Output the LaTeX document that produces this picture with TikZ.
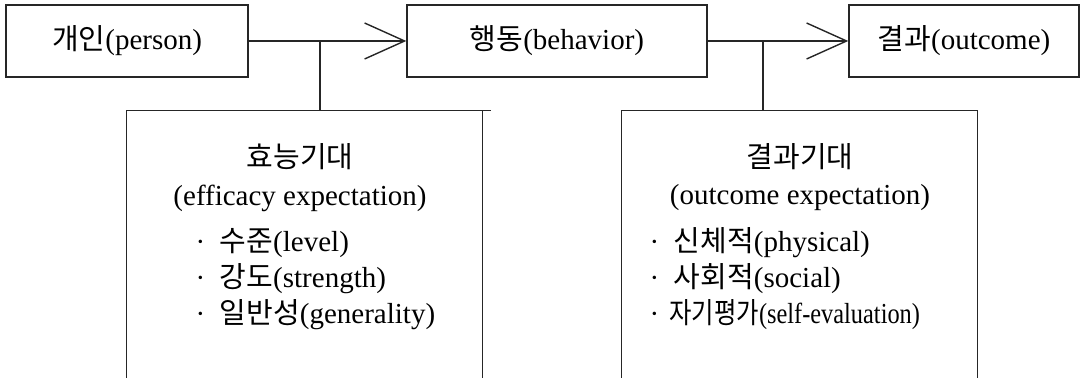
\documentclass[tikz,border=0pt]{standalone}
\usepackage{fontspec}
\usepackage{graphicx}
\setmainfont{Liberation Serif}
\newfontfamily\krfont{Noto Sans CJK KR}
\newcommand{\kr}[1]{{\krfont #1}}
\usetikzlibrary{positioning,arrows.meta}

\tikzset{
  box/.style={rectangle, draw, line width=0.7pt, minimum height=36pt, inner sep=0pt},
  openbox/.style={rectangle, minimum width=177.5pt, minimum height=133.5pt, inner sep=0pt},
  barb/.style={-{Straight Barb[length=20pt, width=18pt, line width=0.7pt]}},
  item/.style={anchor=west, inner sep=0pt}
}

\begin{document}
\begin{tikzpicture}[x=0.5pt, y=-0.5pt, line width=0.7pt, draw=black!85,
    font=\fontsize{14.5}{17}\selectfont]
        \useasboundingbox (0,0) rectangle (1082,378);

        \node[box, minimum width=121pt] (person) at (127,41) {\kr{개인}(person)};
        \node[box, minimum width=150pt] (behavior) at (557,41) {\kr{행동}(behavior)};
        \node[box, minimum width=115pt] (outcome) at (964,41) {\kr{결과}(outcome)};

        \node[openbox] (effbox) at (304.5,244.5) {};
        \node[openbox] (outbox) at (799.5,244.5) {};

        \coordinate (j1) at (320,41);
        \coordinate (j2) at (763,41);

        \draw[barb] (person) -- (behavior);
        \draw[barb] (behavior) -- (outcome);
        \draw (j1) -- (j1 |- effbox.north);
        \draw (j2) -- (j2 |- outbox.north);

        % open boxes, no bottom edge
        \draw (effbox.south west) |- ([xshift=4pt]effbox.north east);
        \draw (effbox.north east) -- (effbox.south east);
        \draw (outbox.south west) |- (outbox.north east) -- (outbox.south east);

        \node (efftitle) at (300,157) {\kr{효능기대}};
        \node (effsub) at (300,198) {(efficacy expectation)};
        \node[item] (eff1) at (195,243) {·\enspace\kr{수준}(level)};
        \node[item] (eff2) at (195,279) {·\enspace\kr{강도}(strength)};
        \node[item] (eff3) at (195,315) {·\enspace\kr{일반성}(generality)};

        \node (outtitle) at (800,157) {\kr{결과기대}};
        \node (outsub) at (800,198) {(outcome expectation)};
        \node[item] (out1) at (649,243) {·\enspace\kr{신체적}(physical)};
        \node[item] (out2) at (649,279) {·\enspace\kr{사회적}(social)};
        \node[item] (out3) at (649,315) {·\hspace{5pt}\scalebox{0.84}[1]{\kr{자기평가}(self-evaluation)}};
      \end{tikzpicture}
\end{document}
